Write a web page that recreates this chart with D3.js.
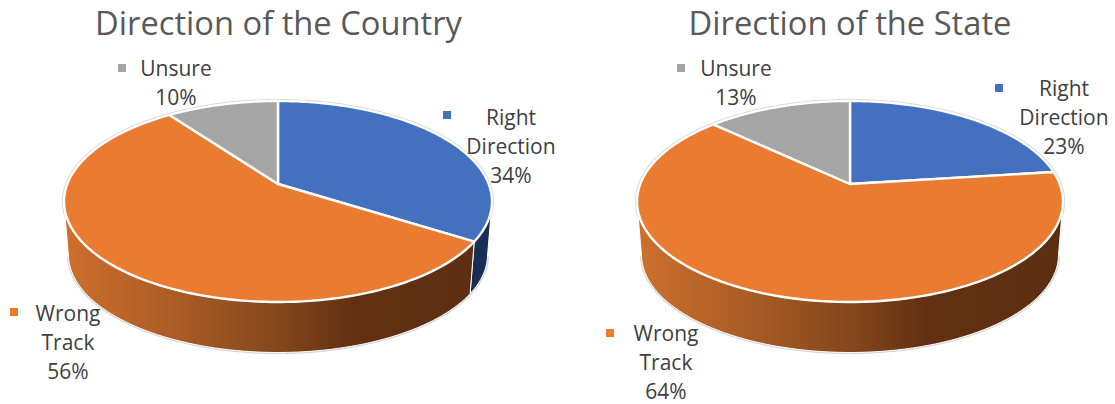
<!DOCTYPE html>
<html><head><meta charset="utf-8">
<script src="https://cdn.jsdelivr.net/npm/d3@7"></script>
<style>html,body{margin:0;padding:0;background:#fff}svg{display:block}text{font-family:"Open Sans",sans-serif}</style>
</head><body><svg id="c" width="1115" height="404"></svg>
<script>
const categories = ["Right Direction","Wrong Track","Unsure"];
const countryValues = [34,56,10];
const stateValues = [23,64,13];
const titles = ["Direction of the Country","Direction of the State"];
const topColors = ["#4371c0","#ea7c32","#a5a5a5"];
const wallColors = ["#1a2e55",null,"#666666"];
const labelLines = [["Right","Direction"],["Wrong","Track"],["Unsure"]];

const panels = [
 {id:0,values:countryValues,title:titles[0],cx:278,rx:214,tx:278.5,
  labels:[{mx:447,my:115,cx:511,y:125},{mx:14,my:312,cx:68,y:321},{mx:122,my:68,cx:176,y:76}]},
 {id:1,values:stateValues,title:titles[1],cx:850,rx:213,tx:850,
  labels:[{mx:999,my:88,cx:1064,y:96},{mx:610,my:333,cx:666,y:341},{mx:681,my:68,cx:736,y:76}]}
];
const svg = d3.select("#c");
const defs = svg.append("defs");
const cyTop=201.5, ryTop=100.5, apexY=184, v0=(apexY-cyTop)/ryTop, LH=29;

panels.forEach(p=>{
  const g=svg.append("g");
  const xT=d3.scaleLinear().domain([-1,1]).range([p.cx-p.rx,p.cx+p.rx]);
  const yT=d3.scaleLinear().domain([-1,1]).range([cyTop-ryTop,cyTop+ryTop]);
  const xB=d3.scaleLinear().domain([-1,1]).range([p.cx-p.rx+4.5,p.cx+p.rx-4.5]);
  const yB=d3.scaleLinear().domain([-1,1]).range([157,352.5]);
  // perspective: disc angle (clockwise from 12 o'clock) to ellipse coordinates
  const proj=a=>{const X=Math.sin(a),Y=-Math.cos(a),d=1+v0*Y;
    return [X*Math.sqrt(1-v0*v0)/d,(Y+v0)/d];};
  const arcs=d3.pie().sort(null).value(d=>d)(p.values);
  const line=d3.line().x(d=>d[0]).y(d=>d[1]);
  const steps=(a,b)=>d3.range(0,121).map(i=>a+(b-a)*i/120);
  const gid="W"+p.id;
  const gr=defs.append("linearGradient").attr("id",gid).attr("gradientUnits","userSpaceOnUse")
    .attr("x1",p.cx-p.rx).attr("x2",p.cx+p.rx).attr("y1",0).attr("y2",0);
  [[0,"#ce702d"],[0.25,"#ab5d25"],[0.5,"#84471c"],[0.68,"#623011"],[1,"#5c2e10"]]
    .forEach(s=>gr.append("stop").attr("offset",s[0]).attr("stop-color",s[1]));
  // silhouette halo
  const all=d3.range(0,361).map(i=>proj(i/360*2*Math.PI));
  const front=all.filter(d=>d[1]>=0).sort((a,b)=>b[0]-a[0]);
  g.append("path").attr("d",line(all.map(d=>[xT(d[0]),yT(d[1])]))+"Z").attr("fill","none").attr("stroke","#d4d4d4").attr("stroke-width",4);
  g.append("path").attr("d",line(front.map(d=>[xB(d[0]),yB(d[1])]))).attr("fill","none").attr("stroke","#d4d4d4").attr("stroke-width",3);
  // walls
  arcs.forEach((s,i)=>{
    const pts=steps(s.startAngle,s.endAngle).map(proj).filter(d=>d[1]>=0);
    if(pts.length<2) return;
    const d=[...pts.map(q=>[xT(q[0]),yT(q[1])]),...pts.slice().reverse().map(q=>[xB(q[0]),yB(q[1])])];
    g.append("path").attr("d",line(d)+"Z")
      .attr("fill",i===1?`url(#${gid})`:wallColors[i])
      .attr("stroke","#fff").attr("stroke-width",1);
  });
  // top faces
  arcs.forEach((s,i)=>{
    const d=[[xT(0),yT(v0)],...steps(s.startAngle,s.endAngle).map(proj).map(q=>[xT(q[0]),yT(q[1])])];
    g.append("path").attr("d",line(d)+"Z").attr("fill",topColors[i])
      .attr("stroke","#fff").attr("stroke-width",2.4).attr("stroke-linejoin","round");
  });
  // title
  g.append("text").attr("x",p.tx).attr("y",35).attr("text-anchor","middle")
    .attr("font-size",32.7).attr("fill","#595959").text(p.title);
  // labels
  arcs.forEach((s,i)=>{
    const L=p.labels[i];
    g.append("rect").attr("x",L.mx-4).attr("y",L.my-4).attr("width",8).attr("height",8).attr("fill",topColors[i]);
    const lines=[...labelLines[i],p.values[i]+"%"];
    lines.forEach((t,k)=>g.append("text").attr("x",L.cx).attr("y",L.y+k*LH)
      .attr("text-anchor","middle").attr("font-size",21).attr("fill","#404040").text(t));
  });
});
</script></body></html>
